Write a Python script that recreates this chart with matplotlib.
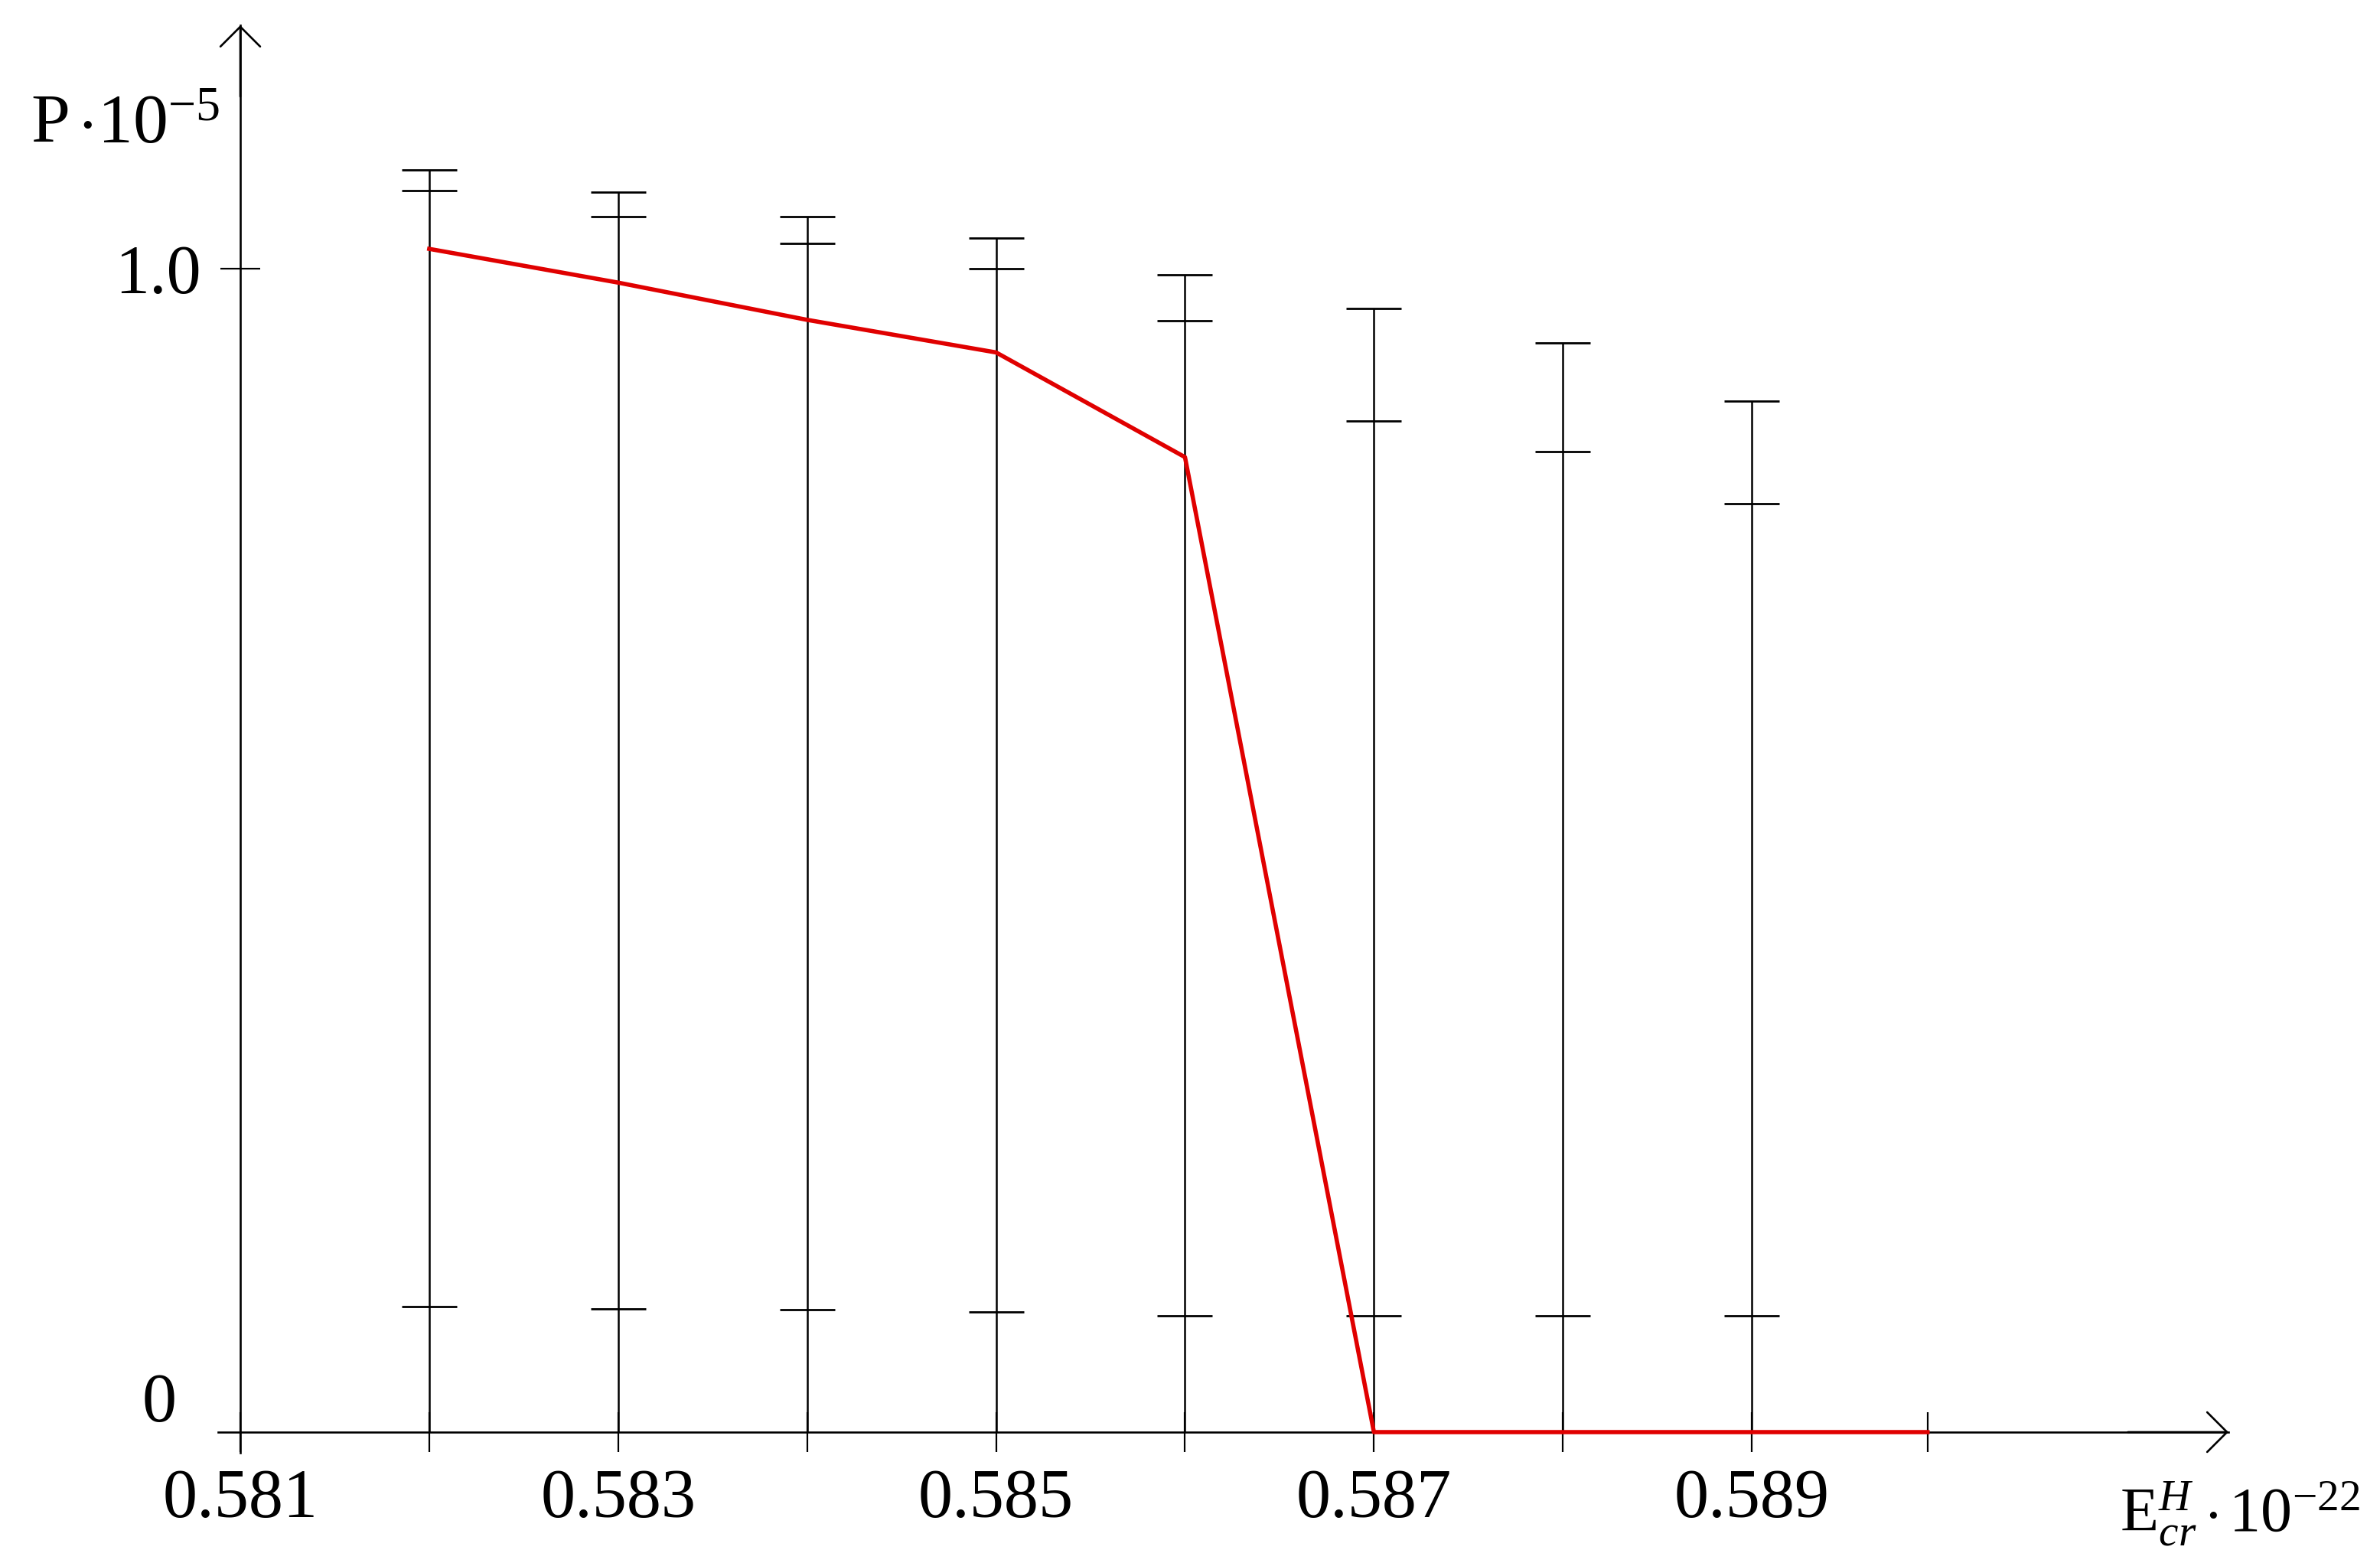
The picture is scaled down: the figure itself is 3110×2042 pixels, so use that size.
import matplotlib.pyplot as plt

plt.rcParams['font.family'] = ['Liberation Serif', 'DejaVu Serif']
plt.rcParams['mathtext.fontset'] = 'custom'
plt.rcParams['mathtext.rm'] = 'Liberation Serif'
plt.rcParams['mathtext.it'] = 'Liberation Serif:italic'

# точки измерений и границы интервалов
x_pts = [0.582, 0.583, 0.584, 0.585, 0.586, 0.587, 0.588, 0.589]
top_cap = [1.085, 1.066, 1.045, 1.026, 0.995, 0.966, 0.936, 0.886]
mid_cap = [1.067, 1.045, 1.022, 1.000, 0.955, 0.869, 0.843, 0.798]
low_cap = [0.108, 0.106, 0.105, 0.103, 0.100, 0.100, 0.100, 0.100]

# красная кривая
red_x = [0.582, 0.583, 0.584, 0.585, 0.586, 0.587, 0.588, 0.589, 0.58993]
red_y = [1.017, 0.988, 0.956, 0.928, 0.838, 0.0, 0.0, 0.0, 0.0]

# подписи осей
x_ticks = [0.581, 0.582, 0.583, 0.584, 0.585, 0.586, 0.587, 0.588, 0.589, 0.58993]
x_labels = ['0.581', '', '0.583', '', '0.585', '', '0.587', '', '0.589', '']
y_ticks = [1.0]
y_labels = ['1.0']

W, H = 3110, 2042
fig = plt.figure(figsize=(W / 100, H / 100), dpi=100)
ax = fig.add_axes([285 / W, 144 / H, 2627 / W, 1865 / H])
ax.set_xlim(0.5808825, 0.591523)
ax.set_ylim(-0.01776, 1.2092)

for s in ('top', 'right'):
    ax.spines[s].set_visible(False)
ax.spines['left'].set_position(('data', 0.581))
ax.spines['bottom'].set_position(('data', 0))
for s in ('left', 'bottom'):
    ax.spines[s].set_linewidth(1.9)

ax.set_xticks(x_ticks)
ax.set_xticklabels(x_labels)
ax.set_yticks(y_ticks)
ax.set_yticklabels(y_labels)
ax.tick_params(axis='both', direction='inout', length=38, width=1.6, labelsize=65)
ax.tick_params(axis='x', pad=15)
ax.tick_params(axis='y', pad=18)

# вертикальные отрезки и засечки
ax.vlines(x_pts, 0, top_cap, color='black', lw=1.8)
for caps in (top_cap, mid_cap, low_cap):
    ax.plot(x_pts, caps, ls='none', marker='_', ms=52.5, mew=2.0, color='black')

ax.plot(red_x, red_y, color='#e00000', lw=4.0, zorder=3, clip_on=False)

# стрелки осей
arrow = dict(arrowstyle='->,head_length=1.87,head_width=1.87', lw=1.9,
             color='black', shrinkA=0, shrinkB=0, mutation_scale=10)
ax.annotate('', xy=(1, 0), xycoords=('axes fraction', 'data'),
            xytext=(0.95, 0), textcoords=('axes fraction', 'data'), arrowprops=arrow)
ax.annotate('', xy=(0.581, 1), xycoords=('data', 'axes fraction'),
            xytext=(0.581, 0.95), textcoords=('data', 'axes fraction'), arrowprops=arrow)

ax.annotate('0', xy=(0.581, 0), xytext=(-60, 10), textcoords='offset points',
            ha='right', va='baseline', fontsize=65)

fig.text(40 / W, 1 - 187 / H, r'$\mathrm{P}\,{\cdot}10^{-5}$', fontsize=66,
         ha='left', va='baseline')
fig.text(2770 / W, 1 - 2000 / H, r'$\mathrm{E}_{cr}^{H}\,{\cdot}\,10^{-22}$', fontsize=59,
         ha='left', va='baseline')

fig.savefig('out.png', dpi=100)
